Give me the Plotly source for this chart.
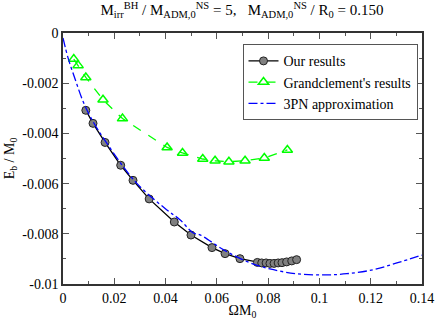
import plotly.graph_objects as go

# Our results (black line, grey circles)
our_omega = [0.0089, 0.0117, 0.0164, 0.0225, 0.0273, 0.0336, 0.0434, 0.0499, 0.0581,
             0.0632, 0.0690, 0.0758, 0.0775, 0.0792, 0.0807, 0.0823, 0.0839, 0.0854,
             0.0872, 0.0892, 0.0911]
our_eb = [-0.00308, -0.00360, -0.00436, -0.00527, -0.00587, -0.00661, -0.00753, -0.00805,
          -0.00855, -0.00879, -0.00899, -0.00914, -0.00916, -0.00916, -0.00918, -0.00918,
          -0.00916, -0.00915, -0.00912, -0.00908, -0.00903]

# Grandclement's results (green dashed, open triangles)
gr_omega = [0.0042, 0.0059, 0.0089, 0.0156, 0.0232, 0.0406, 0.0466, 0.0545, 0.0593,
            0.0647, 0.0710, 0.0785, 0.0875]
gr_eb = [-0.00104, -0.00129, -0.00177, -0.00266, -0.00341, -0.00456, -0.00478, -0.00502,
         -0.00509, -0.00513, -0.00509, -0.00498, -0.00466]

# 3PN approximation (blue dash-dot)
pn_omega = [0.0, 0.002, 0.0046, 0.0078, 0.0110, 0.0170, 0.0287, 0.0404, 0.0456, 0.0508,
            0.0534, 0.0625, 0.0716, 0.0807, 0.0911, 0.1016, 0.1107, 0.1211, 0.1302, 0.1400]
pn_eb = [-0.0002, -0.0010, -0.0018, -0.00272, -0.00340, -0.00438, -0.00598, -0.00704,
         -0.00744, -0.00797, -0.00804, -0.00863, -0.00910, -0.00940, -0.00959, -0.00964,
         -0.00959, -0.00943, -0.00916, -0.00885]

x_ticks = [0, 0.02, 0.04, 0.06, 0.08, 0.1, 0.12, 0.14]
x_labels = ["0", "0.02", "0.04", "0.06", "0.08", "0.1", "0.12", "0.14"]
y_ticks = [0, -0.002, -0.004, -0.006, -0.008, -0.01]
y_labels = ["0", "-0.002", "-0.004", "-0.006", "-0.008", "-0.01"]

FONT = "Liberation Serif"

fig = go.Figure()

fig.add_trace(go.Scatter(
    x=our_omega, y=our_eb, mode="lines+markers", name="Our results",
    line=dict(color="black", width=1.3),
    marker=dict(symbol="circle", size=8, color="#808080",
                line=dict(color="#222", width=1)),
))
fig.add_trace(go.Scatter(
    x=gr_omega, y=gr_eb, mode="lines+markers", name="Grandclement's results",
    line=dict(color="#00ff00", width=1.3, dash="dash"),
    marker=dict(symbol="triangle-up-open", size=9, color="#00ff00",
                line=dict(color="#00ff00", width=1.5)),
))
fig.add_trace(go.Scatter(
    x=pn_omega, y=pn_eb, mode="lines", name="3PN approximation",
    line=dict(color="#0000ff", width=1.3, dash="dashdot", shape="spline"),
))

axis_common = dict(
    showline=True, linecolor="#333", linewidth=1.5, mirror="allticks",
    ticks="inside", ticklen=6, tickcolor="#555", tickwidth=1,
    showgrid=False, zeroline=False, automargin=False,
    tickfont=dict(family=FONT, size=14, color="black"),
)

fig.update_xaxes(
    range=[0, 0.14], tickvals=x_ticks, ticktext=x_labels,
    minor=dict(ticks="inside", ticklen=3, dtick=0.01, tickcolor="#555", showgrid=False),
    title=dict(text="ΩM<sub>0</sub>", font=dict(family=FONT, size=14, color="black"),
               standoff=2),
    **axis_common,
)
fig.update_yaxes(
    range=[-0.01, 0], tickvals=y_ticks, ticktext=y_labels,
    minor=dict(ticks="inside", ticklen=3, dtick=0.001, tickcolor="#555", showgrid=False),
    title=dict(text="E<sub>b</sub> / M<sub>0</sub>", font=dict(family=FONT, size=14, color="black"),
               standoff=4),
    **axis_common,
)

fig.update_layout(
    width=436, height=320,
    margin=dict(l=63, r=14, t=33, b=36, autoexpand=False),
    paper_bgcolor="white", plot_bgcolor="white",
    font=dict(family=FONT, size=13, color="black"),
    title=dict(
        text="M<sub>irr</sub><sup>BH</sup> / M<sub>ADM,0</sub><sup>NS</sup> = 5,   "
             "M<sub>ADM,0</sub><sup>NS</sup> / R<sub>0</sub> = 0.150",
        x=0.555, xanchor="center", y=0.985, yanchor="top",
        font=dict(family=FONT, size=15, color="black"),
    ),
    legend=dict(
        x=0.50, xanchor="left", y=0.955, yanchor="top",
        bgcolor="white", bordercolor="#555", borderwidth=1,
        font=dict(family=FONT, size=14, color="black"),
        tracegroupgap=0, itemwidth=30,
    ),
)

# the page body has a default 8px margin; remove it so the figure fills the window
fig.write_html("out.html", config={"displayModeBar": False},
               post_script="document.body.style.margin='0';")
